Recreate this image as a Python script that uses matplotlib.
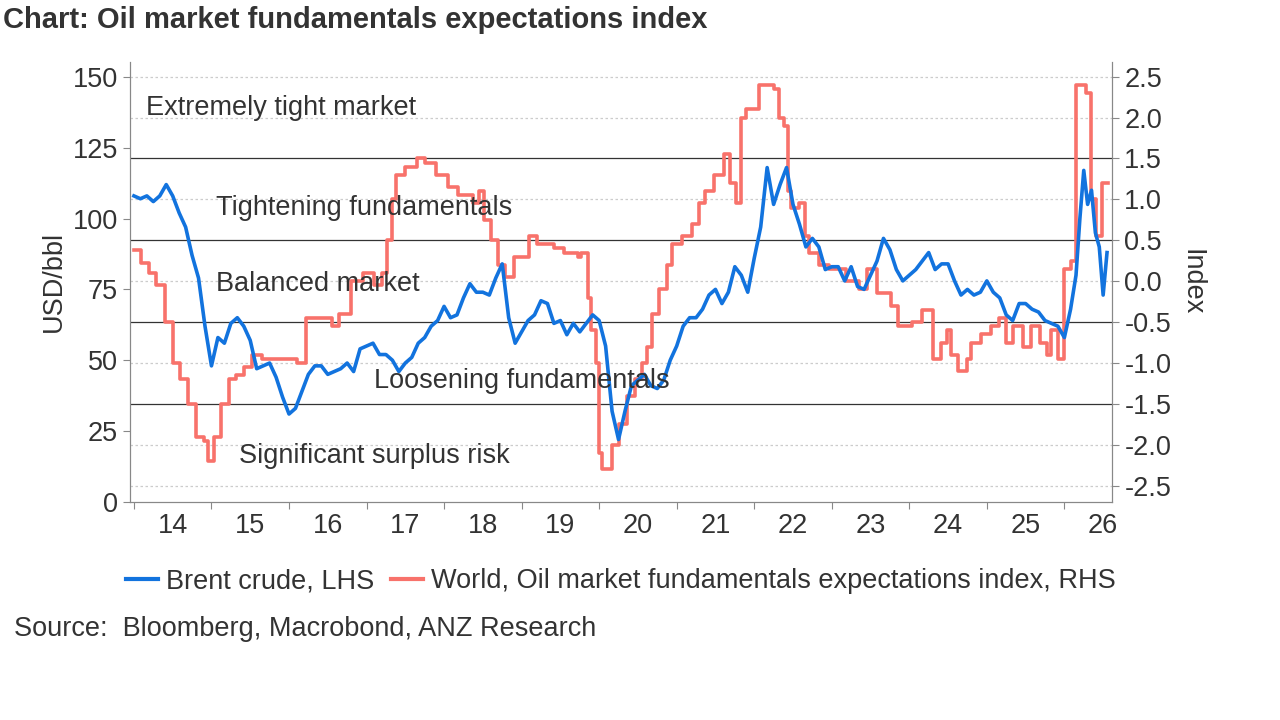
import numpy as np
import matplotlib
matplotlib.use("Agg")
import matplotlib.pyplot as plt
from matplotlib.lines import Line2D

plt.rcParams['font.family'] = ['Liberation Sans', 'DejaVu Sans']

# Brent crude, monthly (USD/bbl), Jan 2014 .. Dec 2025
brent_monthly = [
    108, 107, 108, 106, 108, 112, 108, 102, 97, 87, 79, 62,
    48, 58, 56, 63, 65, 62, 57, 47, 48, 49, 44, 37,
    31, 33, 39, 45, 48, 48, 45, 46, 47, 49, 46, 54,
    55, 56, 52, 52, 50, 46, 49, 51, 56, 58, 62, 64,
    69, 65, 66, 72, 77, 74, 74, 73, 79, 84, 65, 56,
    60, 64, 66, 71, 70, 63, 64, 59, 63, 60, 63, 66,
    64, 55, 32, 22, 32, 41, 43, 45, 41, 40, 43, 50,
    55, 62, 65, 65, 68, 73, 75, 70, 74, 83, 80, 74,
    86, 97, 118, 105, 112, 118, 105, 98, 90, 93, 90, 82,
    83, 83, 78, 83, 76, 75, 80, 85, 93, 89, 82, 78,
    80, 82, 85, 88, 82, 84, 84, 78, 73, 75, 73, 74,
    78, 74, 72, 66, 64, 70, 70, 68, 67, 64, 63, 62,
]
brent_2026_t = [2026.0, 2026.08, 2026.15, 2026.2, 2026.25, 2026.3, 2026.35, 2026.4, 2026.45, 2026.5, 2026.55]
brent_2026_v = [58, 68, 80, 100, 117, 105, 110, 95, 90, 73, 88]

# Oil market fundamentals expectations index: (decimal year, value) steps
idx_steps = [
    (2014.00, 0.38), (2014.09, 0.22), (2014.19, 0.10), (2014.28, -0.05), (2014.40, -0.50),
    (2014.50, -1.00), (2014.60, -1.20), (2014.70, -1.50), (2014.80, -1.90), (2014.90, -1.95),
    (2014.95, -2.20), (2015.03, -1.90), (2015.12, -1.50), (2015.22, -1.20), (2015.32, -1.15),
    (2015.42, -1.05), (2015.52, -0.90), (2015.65, -0.95), (2015.90, -0.95), (2016.10, -1.00),
    (2016.22, -0.45), (2016.55, -0.55), (2016.65, -0.40), (2016.80, 0.00), (2016.95, 0.10),
    (2017.10, -0.05), (2017.20, 0.10), (2017.27, 0.50), (2017.33, 1.00), (2017.38, 1.30),
    (2017.50, 1.40), (2017.65, 1.50), (2017.75, 1.45), (2017.90, 1.30), (2018.05, 1.15),
    (2018.18, 1.05), (2018.37, 0.95), (2018.45, 1.10), (2018.52, 0.75), (2018.60, 0.50),
    (2018.70, 0.20), (2018.78, 0.05), (2018.90, 0.30), (2019.10, 0.55), (2019.20, 0.45),
    (2019.42, 0.40), (2019.55, 0.35), (2019.73, 0.30), (2019.77, 0.35), (2019.85, -0.20),
    (2019.90, -0.60), (2019.96, -1.00), (2020.00, -2.10), (2020.04, -2.30), (2020.17, -2.00),
    (2020.26, -1.75), (2020.36, -1.40), (2020.46, -1.20), (2020.55, -1.00), (2020.62, -0.80),
    (2020.68, -0.40), (2020.77, -0.10), (2020.88, 0.20), (2020.94, 0.45), (2021.07, 0.55),
    (2021.20, 0.70), (2021.29, 0.95), (2021.36, 1.10), (2021.48, 1.30), (2021.61, 1.55),
    (2021.69, 1.20), (2021.77, 0.95), (2021.83, 2.00), (2021.89, 2.10), (2022.06, 2.40),
    (2022.26, 2.35), (2022.32, 2.00), (2022.39, 1.90), (2022.43, 1.10), (2022.48, 0.90),
    (2022.58, 0.95), (2022.65, 0.55), (2022.70, 0.35), (2022.83, 0.20), (2022.96, 0.15),
    (2023.19, 0.00), (2023.35, -0.10), (2023.45, 0.15), (2023.58, -0.15), (2023.77, -0.30),
    (2023.86, -0.55), (2024.03, -0.50), (2024.16, -0.35), (2024.31, -0.95), (2024.41, -0.75),
    (2024.48, -0.60), (2024.54, -0.90), (2024.63, -1.10), (2024.74, -0.95), (2024.80, -0.75),
    (2024.93, -0.65), (2025.06, -0.55), (2025.16, -0.45), (2025.25, -0.75), (2025.34, -0.55),
    (2025.47, -0.80), (2025.57, -0.55), (2025.68, -0.75), (2025.77, -0.90), (2025.83, -0.60),
    (2025.92, -0.95), (2026.00, 0.15), (2026.09, 0.25), (2026.15, 2.40), (2026.28, 2.30),
    (2026.34, 1.00), (2026.41, 0.55), (2026.48, 1.20), (2026.56, 1.20),
]
idx_t = [t for t, v in idx_steps]
idx_v = [v for t, v in idx_steps]

zones = [1.5, 0.5, -0.5, -1.5]
zone_labels = ["Extremely tight market", "Tightening fundamentals", "Balanced market",
               "Loosening fundamentals", "Significant surplus risk"]
zone_pos = [(2014.15, 2.12), (2015.06, 0.9), (2015.06, -0.03), (2017.1, -1.22), (2015.35, -2.13)]
years = list(range(2014, 2027))

brent_t = np.concatenate([2014 + np.arange(len(brent_monthly)) / 12, brent_2026_t])
brent_v = np.concatenate([brent_monthly, brent_2026_v])

blue = "#1273DE"
red = "#F8726B"
txt = "#333333"
fs = 19.5

fig = plt.figure(figsize=(12.8, 7.2), dpi=100)
ax = fig.add_axes([0.1016, 0.303, 0.7675, 0.611])
ax2 = ax.twinx()

ax.set_xlim(2013.95, 2026.62)
ax.set_ylim(0, 155.3)
ax2.set_ylim(-2.696, 2.68)

for z in zones:
    ax2.axhline(z, color="#333333", lw=0.9, zorder=1)
for v in np.arange(-2.5, 2.51, 0.5):
    if v not in zones:
        ax2.axhline(v, color="#cccccc", lw=0.9, ls=(0, (2, 2)), zorder=0)

ax.plot(brent_t, brent_v, color=blue, lw=2.6, zorder=3)
ax2.step(idx_t, idx_v, where="post", color=red, lw=2.6, zorder=2)
ax.set_zorder(ax2.get_zorder() + 1)
ax.patch.set_visible(False)

for lab, (x, y) in zip(zone_labels, zone_pos):
    ax.text(x, ax.get_ylim()[0] + (y - ax2.get_ylim()[0]) / (ax2.get_ylim()[1] - ax2.get_ylim()[0]) * 155.3,
            lab, fontsize=fs, color=txt, va="center", zorder=5)

ax.set_xticks(years)
ax.set_xticklabels([])
ax.set_xticks([y + 0.5 for y in years[:-1]] + [2026.5], minor=True)
ax.set_xticklabels([str(y)[2:] for y in years], minor=True, fontsize=fs, color=txt)
ax.tick_params(axis="x", which="minor", length=0, pad=8)
ax.tick_params(axis="x", which="major", length=5, color="#888888")

ax.set_yticks(np.arange(0, 151, 25))
ax.tick_params(axis="y", labelsize=fs, labelcolor=txt, length=5, color="#888888")
ax2.set_yticks(np.arange(-2.5, 2.51, 0.5))
ax2.set_yticklabels([f"{v:.1f}" for v in np.arange(-2.5, 2.51, 0.5)])
ax2.tick_params(axis="y", labelsize=fs, labelcolor=txt, length=5, color="#888888")
ax.set_ylabel("USD/bbl", fontsize=fs, color=txt, labelpad=4)
ax2.set_ylabel("Index", fontsize=fs, color=txt, rotation=270, labelpad=24)

for a in (ax, ax2):
    a.spines["top"].set_visible(False)
    for s in ("left", "right", "bottom"):
        a.spines[s].set_color("#888888")

fig.text(0.002, 0.972, "Chart: Oil market fundamentals expectations index",
         fontsize=21, fontweight="bold", color=txt, va="center")

handles = [Line2D([], [], color=blue, lw=3), Line2D([], [], color=red, lw=3)]
fig.legend(handles, ["Brent crude, LHS", "World, Oil market fundamentals expectations index, RHS"],
           loc="center", bbox_to_anchor=(0.485, 0.193), ncol=2, frameon=False,
           fontsize=fs, handlelength=1.2, handletextpad=0.3, columnspacing=0.6,
           labelcolor=txt)
fig.text(0.011, 0.127, "Source:  Bloomberg, Macrobond, ANZ Research", fontsize=fs,
         color=txt, va="center")

fig.savefig("out.png", dpi=100)
